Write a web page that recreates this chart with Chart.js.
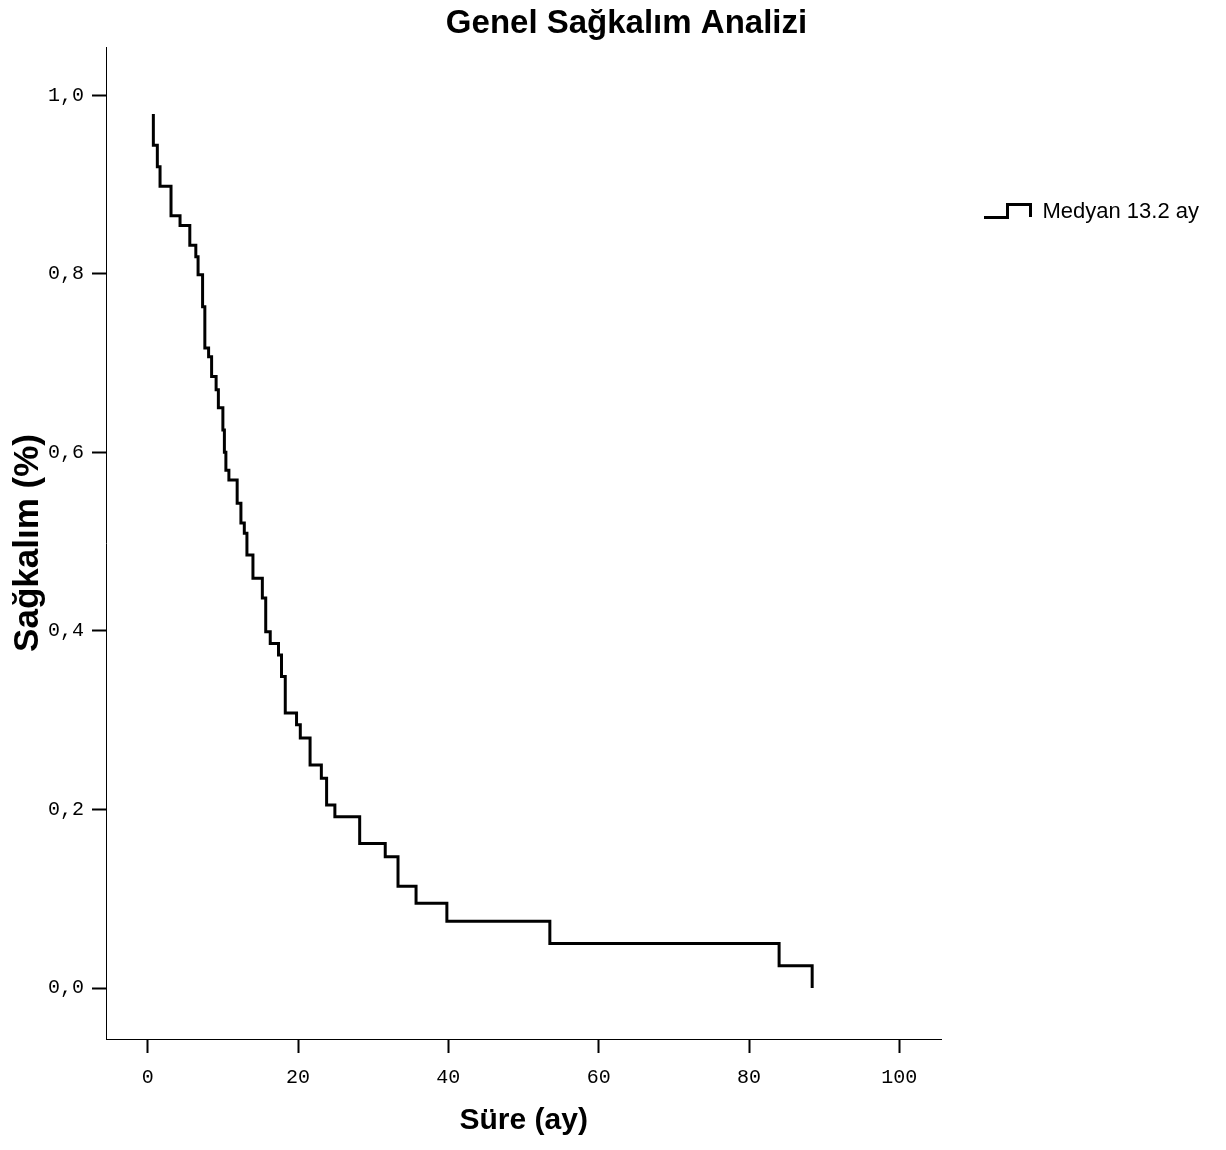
<!DOCTYPE html>
<html>
<head>
<meta charset="utf-8">
<script src="https://cdn.jsdelivr.net/npm/chart.js@4.4.0/dist/chart.umd.min.js"></script>
<style>
  html, body { margin: 0; padding: 0; background: #fff; }
</style>
</head>
<body>
<canvas id="kmChart" width="1226" height="1150"></canvas>
<script>
// Kaplan-Meier adımları: olay zamanı (ay) ve o andan sonraki sağkalım oranı
const sureAy = [0.75, 0.75, 1.28, 1.64, 3.1, 4.3, 5.6, 6.4, 6.7, 7.3, 7.6, 8.1, 8.5, 9.1, 9.4,
  10.0, 10.2, 10.4, 10.8, 11.9, 12.4, 12.85, 13.2, 14.0, 15.25, 15.7, 16.3, 17.4, 17.8, 18.3,
  19.8, 20.3, 21.6, 23.1, 23.8, 24.9, 28.2, 31.6, 33.3, 35.7, 39.8, 53.5, 84.0, 88.4];
const sagkalim = [0.979, 0.944, 0.920, 0.898, 0.865, 0.854, 0.832, 0.819, 0.799, 0.763, 0.717, 0.707, 0.685, 0.670, 0.650,
  0.625, 0.600, 0.580, 0.569, 0.543, 0.521, 0.5095, 0.485, 0.459, 0.437, 0.399, 0.386, 0.373, 0.349, 0.308,
  0.295, 0.280, 0.250, 0.235, 0.205, 0.192, 0.162, 0.147, 0.114, 0.095, 0.075, 0.050, 0.025, 0.0];

const xTickDegerleri = [0, 20, 40, 60, 80, 100];
const yTickDegerleri = [0, 0.2, 0.4, 0.6, 0.8, 1.0];
const seriEtiketi = 'Medyan 13.2 ay';

// lejant için basamak şeklinde simge
function adimSimgesi() {
  const c = document.createElement('canvas');
  c.width = 48; c.height = 18;
  const g = c.getContext('2d');
  g.strokeStyle = '#000';
  g.lineWidth = 3;
  g.lineJoin = 'miter';
  g.beginPath();
  g.moveTo(0, 14.5);
  g.lineTo(23.5, 14.5);
  g.lineTo(23.5, 1.5);
  g.lineTo(46.5, 1.5);
  g.lineTo(46.5, 14);
  g.stroke();
  return c;
}

const eksenYazi = { family: 'Liberation Mono', size: 20 };
const baslikYazi = (s) => ({ family: 'Liberation Sans', size: s, weight: 'bold' });
const izgara = { display: true, drawOnChartArea: false, drawTicks: true, tickLength: 14, tickWidth: 2, tickColor: '#000' };
const kenar = { display: true, color: '#000', width: 1 };

new Chart(document.getElementById('kmChart'), {
  type: 'line',
  data: {
    datasets: [{
      label: seriEtiketi,
      data: sureAy.map((t, i) => ({ x: t, y: sagkalim[i] })),
      stepped: true,
      borderColor: '#000',
      borderWidth: 3,
      borderJoinStyle: 'miter',
      pointRadius: 0,
      fill: false
    }]
  },
  options: {
    responsive: false,
    animation: false,
    layout: { padding: { left: 44, right: 17, top: 0, bottom: 0 } },
    plugins: {
      title: {
        display: true,
        text: 'Genel Sağkalım Analizi',
        color: '#000',
        font: baslikYazi(33),
        padding: { top: 4, bottom: 3.4 }
      },
      legend: {
        display: true,
        position: 'right',
        align: 'start',
        title: { display: true, text: '', padding: { top: 143.6, bottom: 0 } },
        labels: {
          usePointStyle: true,
          pointStyle: adimSimgesi(),
          pointStyleWidth: 47,
          padding: 43,
          color: '#000',
          font: { family: 'Liberation Sans', size: 22 }
        }
      },
      tooltip: { enabled: false }
    },
    scales: {
      x: {
        type: 'linear',
        min: -5.55,
        max: 105.6,
        afterBuildTicks: s => { s.ticks = xTickDegerleri.map(v => ({ value: v })); },
        afterFit: s => { s.height = 111; },
        ticks: { color: '#000', font: eksenYazi, padding: 13, callback: v => String(v) },
        grid: izgara,
        border: kenar,
        title: { display: true, text: 'Süre (ay)', color: '#000', font: baslikYazi(30), padding: { top: 0, bottom: 11 } }
      },
      y: {
        type: 'linear',
        min: -0.057,
        max: 1.054,
        afterBuildTicks: s => { s.ticks = yTickDegerleri.map(v => ({ value: v })); },
        afterFit: s => { s.width = 62; },
        ticks: { color: '#000', font: eksenYazi, padding: 8, callback: v => v.toFixed(1).replace('.', ',') },
        grid: izgara,
        border: kenar,
        title: { display: true, text: 'Sağkalım (%)', color: '#000', font: baslikYazi(35), padding: { top: -37, bottom: 0 } }
      }
    }
  }
});
</script>
</body>
</html>
